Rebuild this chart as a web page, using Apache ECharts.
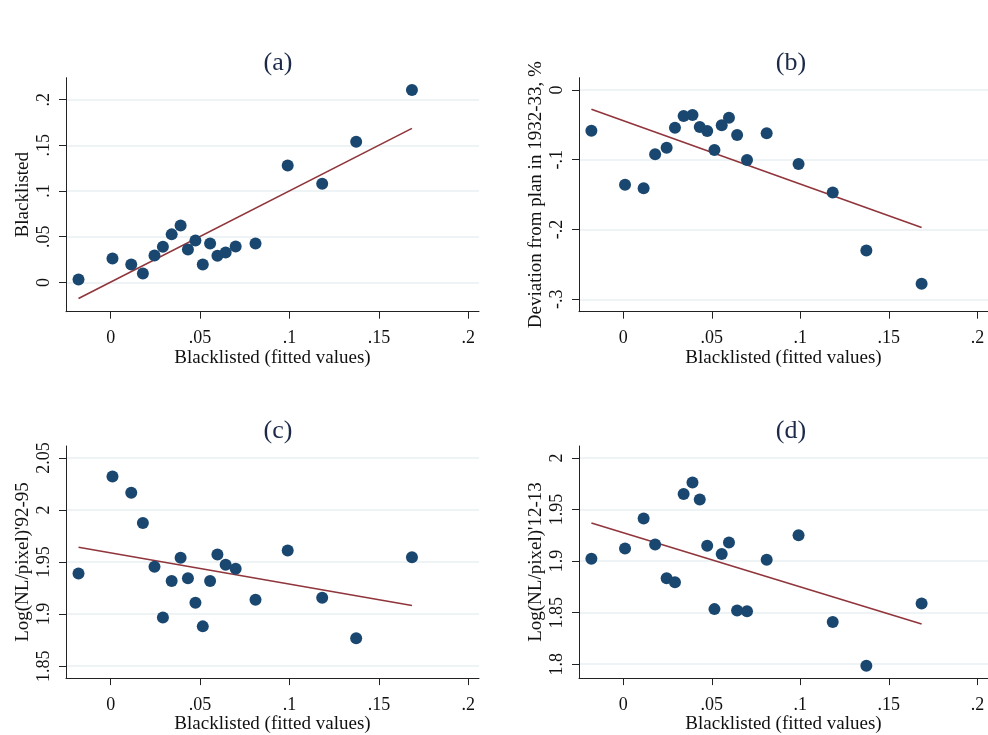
<!DOCTYPE html>
<html><head><meta charset="utf-8">
<script src="https://cdn.jsdelivr.net/npm/echarts@6/dist/echarts.min.js"></script>
<style>html,body{margin:0;padding:0;background:#fff}#c{width:988px;height:735px}</style>
</head><body><div id="c"></div>
<script>
// ---- data ----
const fittedX = [-0.018, 0.001, 0.0115, 0.018, 0.0245, 0.0292, 0.0341, 0.0391, 0.0432, 0.0474,
                 0.0515, 0.0556, 0.0597, 0.0643, 0.0699, 0.081, 0.099, 0.1183, 0.1373, 0.1685];
const blacklisted = [0.0033, 0.0263, 0.0197, 0.0099, 0.0296, 0.039, 0.0526, 0.0624, 0.0361, 0.046,
                     0.0197, 0.0427, 0.0292, 0.0328, 0.0394, 0.0427, 0.128, 0.108, 0.154, 0.2106];
const deviation = [-0.0583, -0.136, -0.141, -0.0922, -0.0827, -0.054, -0.0373, -0.0358, -0.053, -0.0588,
                   -0.086, -0.0506, -0.0397, -0.0645, -0.1003, -0.0621, -0.106, -0.147, -0.230, -0.2776];
const nl9295 = [1.9389, 2.0322, 2.0166, 1.9876, 1.9455, 1.8968, 1.9318, 1.9541, 1.9344, 1.9108,
                1.8882, 1.9318, 1.9573, 1.9475, 1.9436, 1.9137, 1.9611, 1.9156, 1.8768, 1.9545];
const nl1213 = [1.9023, 1.9122, 1.9412, 1.9161, 1.8833, 1.8794, 1.965, 1.9762, 1.9598, 1.9148,
                1.8534, 1.9068, 1.918, 1.8521, 1.8514, 1.9013, 1.9251, 1.8408, 1.7984, 1.8588];
const fitLineX = [-0.018, 0.1685];
const fitA = [-0.0175, 0.1686];
const fitB = [-0.0277, -0.197];
const fitC = [1.9643, 1.9083];
const fitD = [1.937, 1.8389];
const xTicks = [0, 0.05, 0.1, 0.15, 0.2];
const yTicksA = [0, 0.05, 0.1, 0.15, 0.2];
const yTicksB = [-0.3, -0.2, -0.1, 0];
const yTicksC = [1.85, 1.9, 1.95, 2, 2.05];
const yTicksD = [1.8, 1.85, 1.9, 1.95, 2];
const panelTitles = ['(a)', '(b)', '(c)', '(d)'];
const yTitles = ['Blacklisted', 'Deviation from plan in 1932-33, %', "Log(NL/pixel)'92-95", "Log(NL/pixel)'12-13"];
const xTitle = 'Blacklisted (fitted values)';

// ---- layout / style ----
const FONT = '"Liberation Serif", "DejaVu Serif", serif';
const NAVY = '#1a476f', MAROON = '#90353b', GRID = '#e9f0f2';
const panels = [
  {ys: blacklisted, fit: fitA, ticks: yTicksA, ymin: -0.032, ymax: 0.224, left: 66, top: 77.7, h: 234},
  {ys: deviation, fit: fitB, ticks: yTicksB, ymin: -0.3178, ymax: 0.0176, left: 579, top: 77.7, h: 234},
  {ys: nl9295, fit: fitC, ticks: yTicksC, ymin: 1.8385, ymax: 2.0615, left: 66, top: 446, h: 233.3},
  {ys: nl1213, fit: fitD, ticks: yTicksD, ymin: 1.7865, ymax: 2.0116, left: 579, top: 446, h: 233.3}
];
const W = 413;
function fmt(v) {
  let s = String(+(+v).toFixed(4));
  return s.replace(/^0\./, '.').replace(/^-0\./, '-.');
}

const option = {
  backgroundColor: '#fff',
  animation: false,
  title: [], grid: [], xAxis: [], yAxis: [], series: []
};
panels.forEach((p, i) => {
  option.title.push({
    text: panelTitles[i], left: p.left + 207, top: p.top - 33, textAlign: 'center',
    textStyle: {fontFamily: FONT, fontSize: 26, fontWeight: 'normal', color: '#1c2a48'}
  });
  option.grid.push({left: p.left, top: p.top, width: W, height: p.h, containLabel: false});
  option.xAxis.push({
    type: 'value', gridIndex: i, min: -0.025, max: 0.206,
    name: xTitle, nameLocation: 'middle', nameGap: 36,
    nameTextStyle: {fontFamily: FONT, fontSize: 19, color: '#111'},
    axisLine: {show: true, onZero: false, lineStyle: {color: '#222', width: 1}},
    axisTick: {show: true, length: 7, customValues: xTicks, lineStyle: {color: '#222'}},
    axisLabel: {customValues: xTicks, formatter: fmt, margin: 18, fontFamily: FONT, fontSize: 18, color: '#111'},
    splitLine: {show: false}
  });
  option.yAxis.push({
    type: 'value', gridIndex: i, min: p.ymin, max: p.ymax,
    name: yTitles[i], nameLocation: 'middle', nameGap: 33, nameRotate: 90,
    nameTextStyle: {fontFamily: FONT, fontSize: 19, color: '#111'},
    axisLine: {show: true, onZero: false, lineStyle: {color: '#222', width: 1}},
    axisTick: {show: true, length: 7, customValues: p.ticks, lineStyle: {color: '#222'}},
    axisLabel: {customValues: p.ticks, formatter: fmt, rotate: 90, margin: 13, fontFamily: FONT, fontSize: 18, color: '#111'},
    splitLine: {show: true, customValues: p.ticks, lineStyle: {color: GRID, width: 1.5}}
  });
  option.series.push({
    type: 'scatter', xAxisIndex: i, yAxisIndex: i, z: 3,
    symbol: 'circle', symbolSize: 12,
    itemStyle: {color: NAVY, opacity: 1},
    data: fittedX.map((x, k) => [x, p.ys[k]])
  });
  option.series.push({
    type: 'line', xAxisIndex: i, yAxisIndex: i, z: 2,
    symbol: 'none', lineStyle: {color: MAROON, width: 1.6},
    data: fitLineX.map((x, k) => [x, p.fit[k]])
  });
});
const chart = echarts.init(document.getElementById('c'), null, {renderer: 'canvas'});
chart.setOption(option);
</script>
</body></html>
